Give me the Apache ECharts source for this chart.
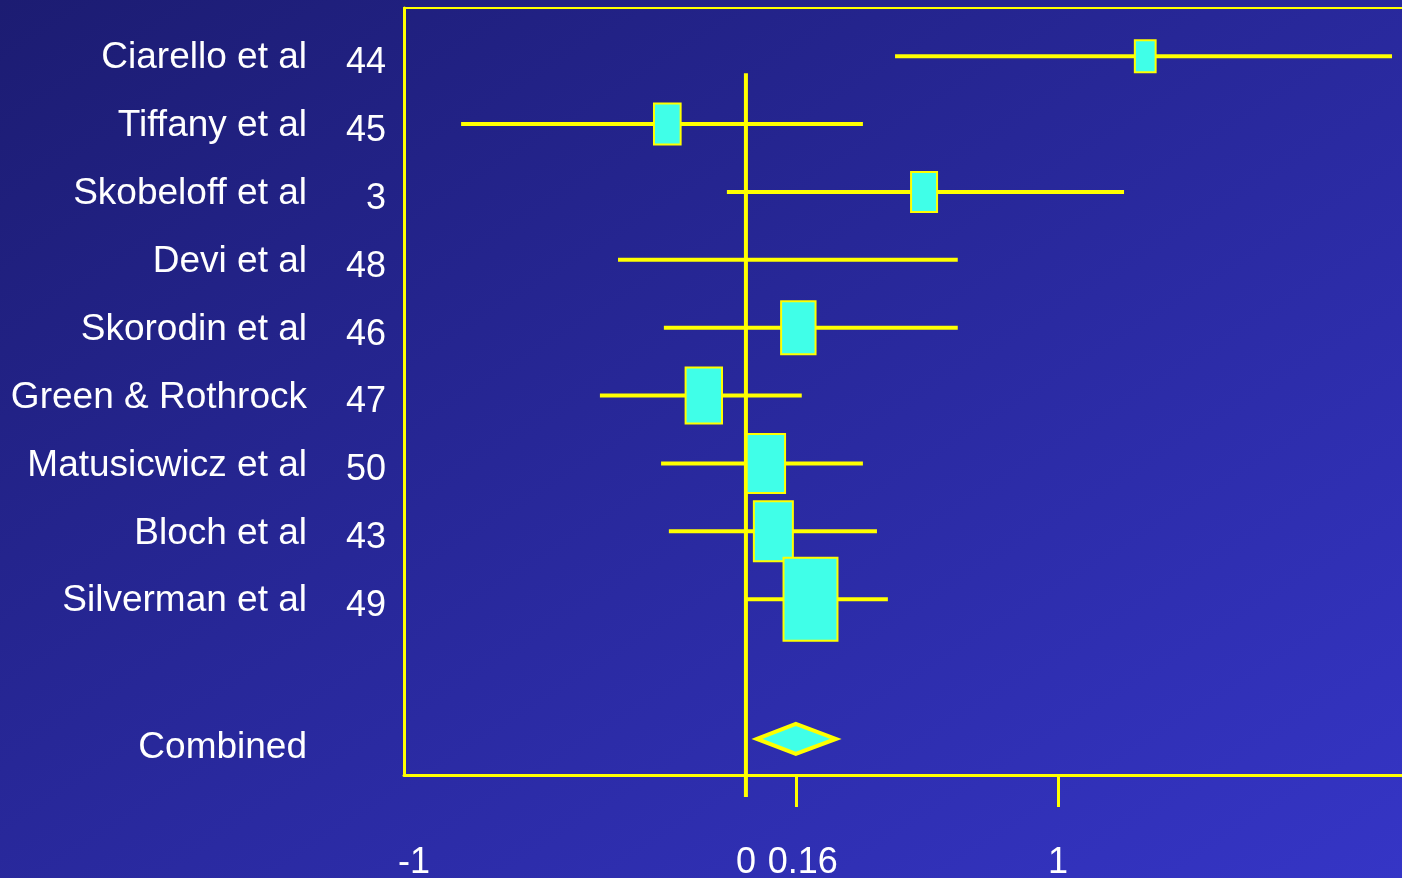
<!DOCTYPE html>
<html>
<head>
<meta charset="utf-8">
<title>Forest plot</title>
<script src="https://cdn.jsdelivr.net/npm/echarts@6/dist/echarts.min.js"></script>
<style>
  html, body { margin: 0; padding: 0; }
  body { background: linear-gradient(to bottom right, #1c1c72, #3535c6); }
  #main { width: 1402px; height: 878px; }
</style>
</head>
<body>
<div id="main"></div>
<script>
// studies, top to bottom
const studies = ['Ciarello et al', 'Tiffany et al', 'Skobeloff et al', 'Devi et al', 'Skorodin et al',
  'Green & Rothrock', 'Matusicwicz et al', 'Bloch et al', 'Silverman et al'];
const refNumbers = ['44', '45', '3', '48', '46', '47', '50', '43', '49'];
const estimates = [1.28, -0.252, 0.571, null, 0.168, -0.135, 0.064, 0.088, 0.207];
const lower = [0.478, -0.913, -0.061, -0.41, -0.263, -0.468, -0.272, -0.247, 0.0];
const upper = [2.071, 0.375, 1.212, 0.679, 0.679, 0.179, 0.375, 0.42, 0.455];
const weights = [3.2, 4.1, 4.0, 0, 5.3, 5.6, 5.9, 6.0, 8.3];
// combined effect: lower, estimate, upper
const combinedCI = [0.029, 0.16, 0.295];
const combinedLabel = 'Combined';
const xTickLabels = [-1, 0, 0.16, 1];
const xTickMarks = [0.16, 1];

const YELLOW = '#ffff00';
const CYAN = '#40ffe8';
const FONT = 'Liberation Sans, Arial, sans-serif';
const combinedRow = studies.length + 1;

let myChart = echarts.init(document.getElementById('main'));

function renderStudy(params, api) {
  const i = params.dataIndex;
  const y = api.coord([0, i])[1];
  const x1 = api.coord([lower[i], i])[0];
  const x2 = api.coord([upper[i], i])[0];
  const children = [{
    type: 'line',
    shape: { x1: x1, y1: y, x2: x2, y2: y },
    style: { stroke: YELLOW, lineWidth: 4 }
  }];
  if (estimates[i] != null) {
    const h = weights[i] * 10;
    const w = h * 0.65;
    const cx = api.coord([estimates[i], i])[0];
    children.push({
      type: 'rect',
      shape: { x: cx - w / 2, y: y - h / 2, width: w, height: h },
      style: { fill: CYAN, stroke: YELLOW, lineWidth: 2 }
    });
  }
  return { type: 'group', children: children };
}

function renderCombined(params, api) {
  const lo = api.coord([combinedCI[0], combinedRow]);
  const mid = api.coord([combinedCI[1], combinedRow]);
  const hi = api.coord([combinedCI[2], combinedRow]);
  const h = 15;
  const dy = 4;
  return {
    type: 'polygon',
    shape: { points: [[lo[0] + 2, lo[1] + dy], [mid[0], mid[1] - h + dy], [hi[0] - 2, hi[1] + dy], [mid[0], mid[1] + h + dy]] },
    style: { fill: CYAN, stroke: YELLOW, lineWidth: 4 }
  };
}

function renderZeroLine(params, api) {
  const top = api.coord([0, 0.25]);
  const bottom = api.coord([0, 10.59]);
  return {
    type: 'line',
    shape: { x1: top[0], y1: top[1], x2: top[0], y2: bottom[1] + 22 },
    style: { stroke: YELLOW, lineWidth: 4 }
  };
}

myChart.setOption({
  animation: false,
  backgroundColor: 'transparent',
  textStyle: { fontFamily: FONT },
  grid: { left: 404, right: 0, top: 8, bottom: 103, outerBoundsMode: 'none', containLabel: false },
  xAxis: [
    {
      type: 'value',
      min: -1.096,
      max: 2.103,
      position: 'bottom',
      axisLine: { onZero: false, lineStyle: { color: YELLOW, width: 3 } },
      axisTick: { customValues: xTickMarks, length: 32, lineStyle: { color: YELLOW, width: 3 } },
      axisLabel: {
        customValues: xTickLabels,
        margin: 70,
        color: '#ffffff',
        fontSize: 36,
        fontFamily: FONT,
        formatter: (v) => {
          if (v === -1) return '{l|-1}';
          if (v === 0.16) return '{r|0.16}';
          return String(v);
        },
        rich: {
          l: { fontSize: 36, color: '#ffffff', fontFamily: FONT, padding: [0, 40, 0, 0] },
          r: { fontSize: 36, color: '#ffffff', fontFamily: FONT, padding: [0, 0, 0, 14] }
        }
      },
      splitLine: { show: false }
    },
    {
      type: 'value',
      min: -1.096,
      max: 2.103,
      position: 'top',
      axisLine: { show: true, onZero: false, lineStyle: { color: YELLOW, width: 2 } },
      axisTick: { show: false },
      axisLabel: { show: false },
      splitLine: { show: false }
    }
  ],
  yAxis: {
    type: 'value',
    inverse: true,
    min: -0.71,
    max: 10.59,
    axisLine: { show: true, onZero: false, lineStyle: { color: YELLOW, width: 3 } },
    axisTick: { show: false },
    splitLine: { show: false },
    axisLabel: {
      customValues: studies.map((s, i) => i).concat([combinedRow]),
      margin: 18,
      formatter: (v) => {
        if (v === combinedRow) return '{m|' + combinedLabel + '}{c| }';
        return '{n|' + studies[v] + '}{c|' + refNumbers[v] + '}';
      },
      rich: {
        n: { fontSize: 37, color: '#ffffff', fontFamily: FONT, padding: [4, 0, 0, 0] },
        m: { fontSize: 37, color: '#ffffff', fontFamily: FONT, padding: [26, 0, 0, 0] },
        c: { fontSize: 36, color: '#ffffff', fontFamily: FONT, width: 79, align: 'right', padding: [14, 0, 0, 0] }
      }
    }
  },
  series: [
    {
      name: 'zero',
      type: 'custom',
      clip: false,
      renderItem: renderZeroLine,
      data: [[0, 0]],
      z: 1
    },
    {
      name: 'studies',
      type: 'custom',
      clip: false,
      renderItem: renderStudy,
      encode: { x: [0, 1], y: 2 },
      data: studies.map((s, i) => [lower[i], upper[i], i]),
      z: 2
    },
    {
      name: 'combined',
      type: 'custom',
      clip: false,
      renderItem: renderCombined,
      encode: { x: [0, 1], y: 2 },
      data: [[combinedCI[0], combinedCI[2], combinedRow]],
      z: 3
    }
  ]
});

window.addEventListener('resize', () => {
  myChart.resize();
});
</script>
</body>
</html>
